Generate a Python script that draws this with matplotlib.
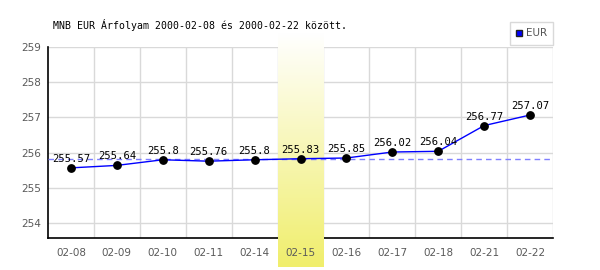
import numpy as np
import matplotlib
matplotlib.use("Agg")
import matplotlib.pyplot as plt
from matplotlib.lines import Line2D
from matplotlib.colors import LinearSegmentedColormap

# ---- data ----
dates = ["02-08", "02-09", "02-10", "02-11", "02-14", "02-15",
         "02-16", "02-17", "02-18", "02-21", "02-22"]
rates = [255.57, 255.64, 255.8, 255.76, 255.8, 255.83,
         255.85, 256.02, 256.04, 256.77, 257.07]
labels = ["255.57", "255.64", "255.8", "255.76", "255.8", "255.83",
          "255.85", "256.02", "256.04", "256.77", "257.07"]
yticks = [254, 255, 256, 257, 258, 259]
highlight = "02-15"
ref_value = 255.83
title = "MNB EUR Árfolyam 2000-02-08 és 2000-02-22 között."
series_name = "EUR"

fig = plt.figure(figsize=(6, 2.7), dpi=100)
ax = fig.add_axes([48/600, 32/270, 505/600, 191/270])
ax.set_facecolor("white")

x = np.arange(len(dates))

# grid lines drawn manually (low zorder)
grid_c = "#d9d9d9"
for yt in yticks:
    ax.axhline(yt, color=grid_c, lw=1, zorder=0.5)
for k in range(len(dates)):
    ax.axvline(k + 0.5, color=grid_c, lw=1, zorder=0.5)

# highlight band with vertical gradient
hi = dates.index(highlight)
cmap = LinearSegmentedColormap.from_list("hl", ["#ffffff", "#f0ee6c"])
grad = np.linspace(0, 1, 256).reshape(-1, 1)
im = ax.imshow(grad, aspect="auto", cmap=cmap, origin="upper",
               extent=(hi - 0.5, hi + 0.5, -0.152, 1.068),
               transform=ax.get_xaxis_transform(), zorder=2.7,
               clip_on=False, interpolation="bilinear")
ax.set_xlim(-0.5, len(dates) - 0.5)
ax.set_ylim(253.58, 259)

# reference dashed line
ax.axhline(ref_value, color="#7f7fff", lw=1.0, ls=(0, (4, 3)), zorder=3)

# series
ax.plot(x, rates, color="#0000ff", lw=1, zorder=4)
ax.plot(x, rates, "o", color="black", ms=5.3, zorder=5)

for xi, v, lab in zip(x, rates, labels):
    ax.annotate(lab, (xi, v), xytext=(0, 4), textcoords="offset pixels",
                ha="center", va="bottom", fontsize=7.6,
                family="DejaVu Sans Mono", color="black", zorder=6)

# axes styling
for s in ["top", "right"]:
    ax.spines[s].set_visible(False)
for s in ["left", "bottom"]:
    ax.spines[s].set_color("black")
    ax.spines[s].set_linewidth(1.2)
ax.spines["bottom"].set_zorder(2.5)

ax.set_xticks(x)
ax.set_xticklabels(dates)
ax.set_yticks(yticks)
ax.set_yticklabels([str(t) for t in yticks])
ax.tick_params(axis="both", length=0, labelsize=7.5, labelcolor="#5a5a5a")
ax.tick_params(axis="x", pad=7)
ax.tick_params(axis="y", pad=5)
ax.xaxis.set_zorder(6)
ax.yaxis.set_zorder(6)

# title
fig.text(53/600, 1 - 25/270, title, ha="left", va="center",
         fontsize=7.1, family="DejaVu Sans Mono", color="black")

# legend
h = Line2D([], [], marker="s", ls="none", markerfacecolor="#0000ff",
           markeredgecolor="#222222", markersize=5)
leg = fig.legend([h], [series_name], loc="upper right",
                 bbox_to_anchor=(553/600, 1 - 22/270),
                 frameon=True, fancybox=False, fontsize=7.5,
                 handlelength=0.6, handletextpad=0.3, borderpad=0.6,
                 borderaxespad=0)
leg.get_frame().set_edgecolor("#d0d0d0")
leg.get_frame().set_linewidth(1)
for t in leg.get_texts():
    t.set_color("#555555")

fig.savefig("out.png", dpi=100)
